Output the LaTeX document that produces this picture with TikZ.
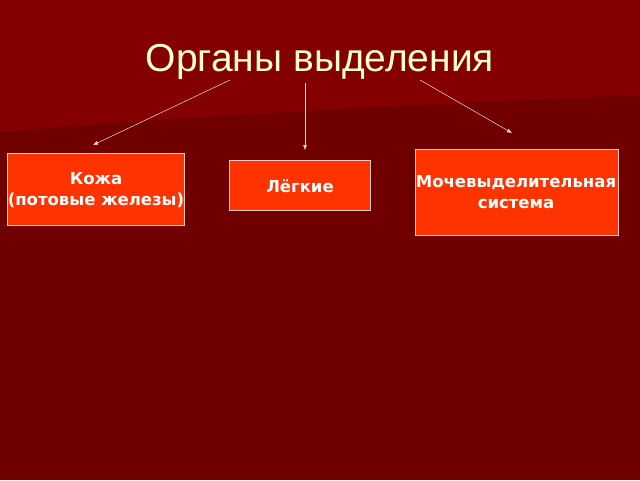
\documentclass[tikz,border=0pt]{standalone}
\usepackage{fontspec}
\setmainfont{Liberation Sans}
\newfontfamily\dejavu{DejaVu Sans}
\definecolor{bgdark}{HTML}{700000}
\definecolor{bglight}{HTML}{840000}
\definecolor{boxred}{HTML}{FF3300}
\definecolor{titlecol}{HTML}{FFFFCC}
\usetikzlibrary{arrows.meta}
\tikzset{
  organ/.style={draw=white!80!red, line width=0.6pt, fill=boxred},
  organtext/.style={text=white, font=\dejavu\bfseries\fontsize{16.5}{21}\selectfont, align=center, inner sep=0pt},
  link/.style={draw=white!85!red, line width=0.5pt, -{Latex[length=5pt,width=4pt]}}
}
\begin{document}
\begin{tikzpicture}[x=1pt,y=-1pt]
\useasboundingbox (0,0) rectangle (640,480);
\fill[bgdark] (0,0) rectangle (640,480);
\fill[bglight] (0,0) -- (640,0) -- (640,95) .. controls (400,105) and (200,115) .. (0,132) -- cycle;
\node (title) [text=titlecol, font=\fontsize{39}{44}\selectfont] at (320,62) {Органы выделения};
\node (skin) [organ, minimum width=177pt, minimum height=72pt] at (95.5,189) {};
\node (lungs) [organ, minimum width=141pt, minimum height=50pt] at (299.5,185) {};
\node (urin) [organ, minimum width=203pt, minimum height=86pt] at (516.5,192) {};
\node (skint) [organtext] at (96,190) {Кожа\\(потовые железы)};
\node (lungst) [organtext] at (300,186) {Лёгкие};
\node (urint) [organtext] at (516,192) {Мочевыделительная\\система};
\coordinate (s1) at (230,80); \coordinate (e1) at (93,145);
\coordinate (s2) at (305,83); \coordinate (e2) at (305,150);
\coordinate (s3) at (420,80); \coordinate (e3) at (512,133);
\draw[link] (s1) -- (e1);
\draw[link] (s2) -- (e2);
\draw[link] (s3) -- (e3);
\end{tikzpicture}
\end{document}
